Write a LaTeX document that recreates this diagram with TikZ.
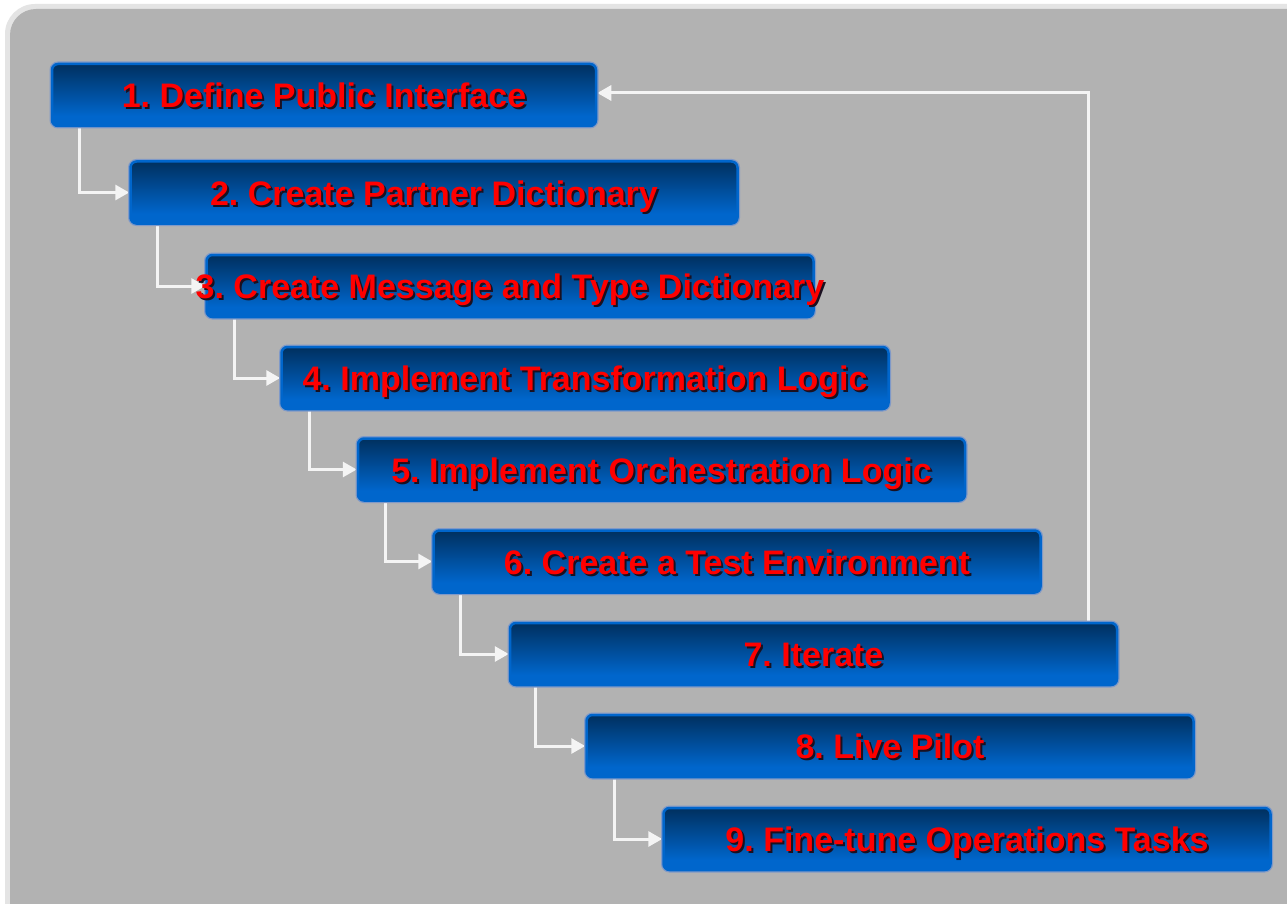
\documentclass[tikz,border=0pt]{standalone}
\usepackage{fontspec}
\setmainfont{Liberation Sans}
\usetikzlibrary{arrows.meta}
\frenchspacing

\definecolor{panelgray}{HTML}{B2B2B2}
\definecolor{framegray}{HTML}{E4E4E4}
\definecolor{boxedge}{HTML}{0066CC}
\definecolor{boxhalo}{HTML}{7F99C8}
\definecolor{boxdark}{HTML}{00305F}
\definecolor{boxlight}{HTML}{0066CC}
\definecolor{labelred}{HTML}{FF0000}
\definecolor{labelshadow}{HTML}{1A1020}
\definecolor{linkwhite}{HTML}{F4F4F4}

% dark navy at the top of each step, bright blue towards the bottom
\pgfdeclareverticalshading{stepshade}{100bp}{color(0bp)=(boxlight); color(33bp)=(boxlight); color(75bp)=(boxdark); color(100bp)=(boxdark)}

% red bold label with a dark drop shadow; zero width so it never widens the box
\newcommand\steplabel[1]{\makebox[0pt][c]{\rlap{\kern2pt\raisebox{-2pt}{\textcolor{labelshadow}{#1}}}\textcolor{labelred}{#1}}}

\pgfdeclarelayer{panel}
\pgfdeclarelayer{links}
\pgfsetlayers{panel,links,main}

\tikzset{
  stepbox/.style={rounded corners=6pt, minimum width=607pt, minimum height=62pt,
    inner sep=0pt, text height=25pt, text depth=0pt,
    shading=stepshade, draw=boxedge, line width=2.5pt,
    preaction={draw=boxhalo, line width=5pt},
    font=\fontsize{34}{40}\selectfont\bfseries},
  link/.style={draw=linkwhite, line width=3pt, -{Triangle[length=14pt,width=15pt]}}
}

\begin{document}
\begin{tikzpicture}[x=1pt,y=-1pt]
\useasboundingbox (0,0) rectangle (1287,904);

\begin{pgfonlayer}{panel}
  \fill[white] (0,0) rectangle (1287,904);
  \fill[framegray, rounded corners=30pt] (5,4) rectangle (1330,950);
  \fill[panelgray, rounded corners=26pt] (10,9) rectangle (1330,950);
\end{pgfonlayer}

% the nine steps, each shifted right and down from the previous one
\node[stepbox, minimum width=544pt] (s1) at (324,95)    {\steplabel{1. Define Public Interface}};
\node[stepbox] (s2) at (434,192.5)  {\steplabel{2. Create Partner Dictionary}};
\node[stepbox] (s3) at (510,286)    {\steplabel{3. Create Message and Type Dictionary}};
\node[stepbox] (s4) at (585,378)    {\steplabel{4. Implement Transformation Logic}};
\node[stepbox] (s5) at (661.5,469.5){\steplabel{5. Implement Orchestration Logic}};
\node[stepbox] (s6) at (737,561.5)  {\steplabel{6. Create a Test Environment}};
\node[stepbox] (s7) at (813.5,654)  {\steplabel{7. Iterate}};
\node[stepbox] (s8) at (890,746)    {\steplabel{8. Live Pilot}};
\node[stepbox] (s9) at (967,839)    {\steplabel{9. Fine-tune Operations Tasks}};

\begin{pgfonlayer}{links}
  \draw[link] ([xshift=29pt]s1.south west) |- (s2.west);
  \draw[link] ([xshift=28pt]s2.south west) |- (s3.west);
  \draw[link] ([xshift=29pt]s3.south west) |- (s4.west);
  \draw[link] ([xshift=29pt]s4.south west) |- (s5.west);
  \draw[link] ([xshift=29pt]s5.south west) |- (s6.west);
  \draw[link] ([xshift=28pt]s6.south west) |- (s7.west);
  \draw[link] ([xshift=27pt]s7.south west) |- (s8.west);
  \draw[link] ([xshift=29pt]s8.south west) |- (s9.west);
  % loop back from iterating to the interface definition
  \draw[link] ([xshift=-30pt]s7.north east) |- ([yshift=2pt]s1.east);
\end{pgfonlayer}
\end{tikzpicture}
\end{document}
